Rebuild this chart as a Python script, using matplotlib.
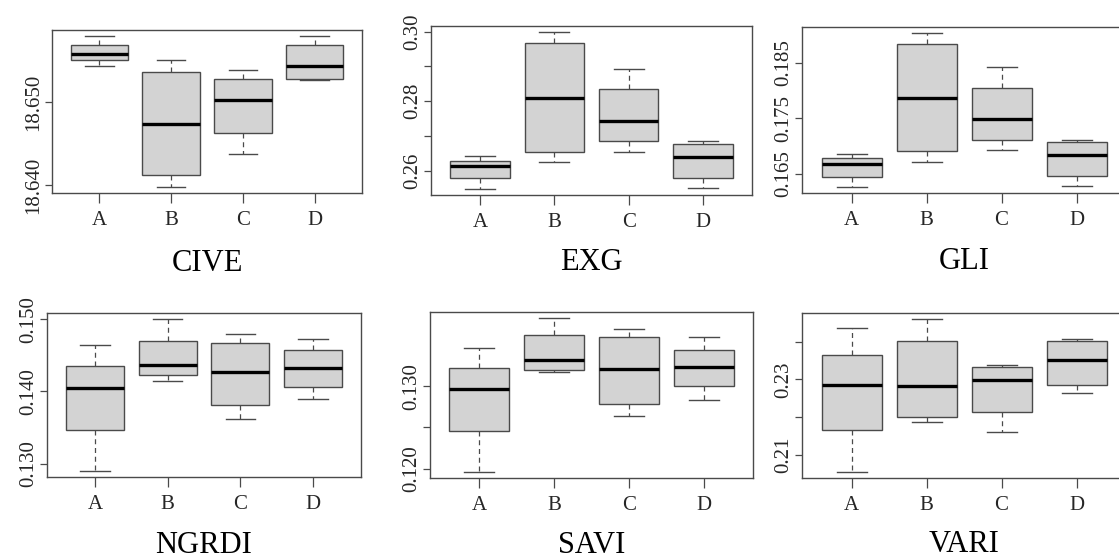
import matplotlib.pyplot as plt

plt.rcParams['font.family'] = ['Liberation Serif', 'DejaVu Serif']

W, H = 1119, 560

groups = ['A', 'B', 'C', 'D']

# five-number summaries per group: lower whisker, Q1, median, Q3, upper whisker
cive = [[18.6543, 18.6550, 18.6558, 18.6568, 18.6579],
        [18.6398, 18.6412, 18.6473, 18.6536, 18.6550],
        [18.6438, 18.6463, 18.6502, 18.6527, 18.6538],
        [18.6526, 18.6527, 18.6543, 18.6568, 18.6579]]
exg = [[0.2548, 0.2579, 0.2614, 0.2629, 0.2643],
       [0.2624, 0.2655, 0.2810, 0.2966, 0.2998],
       [0.2655, 0.2684, 0.2744, 0.2835, 0.2893],
       [0.2551, 0.2579, 0.2640, 0.2676, 0.2685]]
gli = [[0.1627, 0.1644, 0.1668, 0.1678, 0.1686],
       [0.1672, 0.1691, 0.1787, 0.1884, 0.1903],
       [0.1693, 0.1712, 0.1749, 0.1805, 0.1842],
       [0.1629, 0.1646, 0.1685, 0.1707, 0.1712]]
ngrdi = [[0.1290, 0.1346, 0.1404, 0.1435, 0.1464],
         [0.1415, 0.1423, 0.1436, 0.1470, 0.1500],
         [0.1362, 0.1381, 0.1427, 0.1467, 0.1479],
         [0.1389, 0.1406, 0.1433, 0.1457, 0.1473]]
savi = [[0.1196, 0.1246, 0.1297, 0.1322, 0.1347],
        [0.1317, 0.1320, 0.1332, 0.1363, 0.1383],
        [0.1264, 0.1278, 0.1321, 0.1360, 0.1370],
        [0.1283, 0.1300, 0.1323, 0.1344, 0.1360]]
vari = [[0.2054, 0.2165, 0.2285, 0.2365, 0.2436],
        [0.2186, 0.2200, 0.2281, 0.2403, 0.2460],
        [0.2160, 0.2212, 0.2297, 0.2333, 0.2337],
        [0.2264, 0.2285, 0.2352, 0.2403, 0.2408]]

cive_ticks = [18.640, 18.650]
cive_labels = ['18.640', '18.650']
exg_ticks = [0.26, 0.27, 0.28, 0.29, 0.30]
exg_labels = ['0.26', '', '0.28', '', '0.30']
gli_ticks = [0.165, 0.175, 0.185]
gli_labels = ['0.165', '0.175', '0.185']
ngrdi_ticks = [0.130, 0.140, 0.150]
ngrdi_labels = ['0.130', '0.140', '0.150']
savi_ticks = [0.120, 0.125, 0.130]
savi_labels = ['0.120', '', '0.130']
vari_ticks = [0.21, 0.22, 0.23, 0.24]
vari_labels = ['0.21', '', '0.23', '']

# name, stats, ticks, labels, panel rectangle in pixels (left, top, right, bottom), title offset
panels = [
    ('CIVE', cive, cive_ticks, cive_labels, (52, 30, 362, 193), -56),
    ('EXG', exg, exg_ticks, exg_labels, (431, 26, 752, 195), -54),
    ('GLI', gli, gli_ticks, gli_labels, (802, 27, 1126, 193), -55),
    ('NGRDI', ngrdi, ngrdi_ticks, ngrdi_labels, (47, 313, 361, 477), -55),
    ('SAVI', savi, savi_ticks, savi_labels, (430, 312, 753, 478), -54),
    ('VARI', vari, vari_ticks, vari_labels, (802, 313, 1126, 478), -53),
]

edge = '#4a4a4a'
txt = '#262626'

fig = plt.figure(figsize=(W / 100, H / 100), dpi=100)

for name, stats, ticks, labels, (l, t, r, b), off in panels:
    ax = fig.add_axes([l / W, 1 - b / H, (r - l) / W, (b - t) / H])
    bx = [dict(whislo=s[0], q1=s[1], med=s[2], q3=s[3], whishi=s[4], label=g)
          for g, s in zip(groups, stats)]
    ax.bxp(bx, positions=range(1, len(groups) + 1), widths=0.8, capwidths=0.4,
           showfliers=False, patch_artist=True,
           boxprops=dict(facecolor='#d3d3d3', edgecolor=edge, linewidth=1.0),
           medianprops=dict(color='black', linewidth=2.4, solid_capstyle='butt'),
           whiskerprops=dict(color=edge, linewidth=0.9, linestyle=(0, (4, 3))),
           capprops=dict(color=edge, linewidth=1.0))
    n = len(groups)
    ax.set_xlim(0.5 - 0.04 * n, n + 0.5 + 0.04 * n)
    ax.margins(y=0.04)
    ax.set_yticks(ticks)
    ax.set_yticklabels(labels, rotation=90, va='center')
    ax.set_xticks(range(1, n + 1))
    ax.set_xticklabels(groups)
    ax.tick_params(axis='both', colors=edge, labelcolor=txt, labelsize=15,
                   width=0.9, direction='out')
    ax.tick_params(axis='x', length=7, pad=6)
    ax.tick_params(axis='y', length=5, pad=1.5)
    for sp in ax.spines.values():
        sp.set_color(edge)
        sp.set_linewidth(1.0)
    ax.annotate(name, xy=(0.5, 0), xycoords='axes fraction',
                xytext=(0, off), textcoords='offset points',
                ha='center', va='baseline', fontsize=22, color='black')

fig.savefig('out.png', dpi=100)
